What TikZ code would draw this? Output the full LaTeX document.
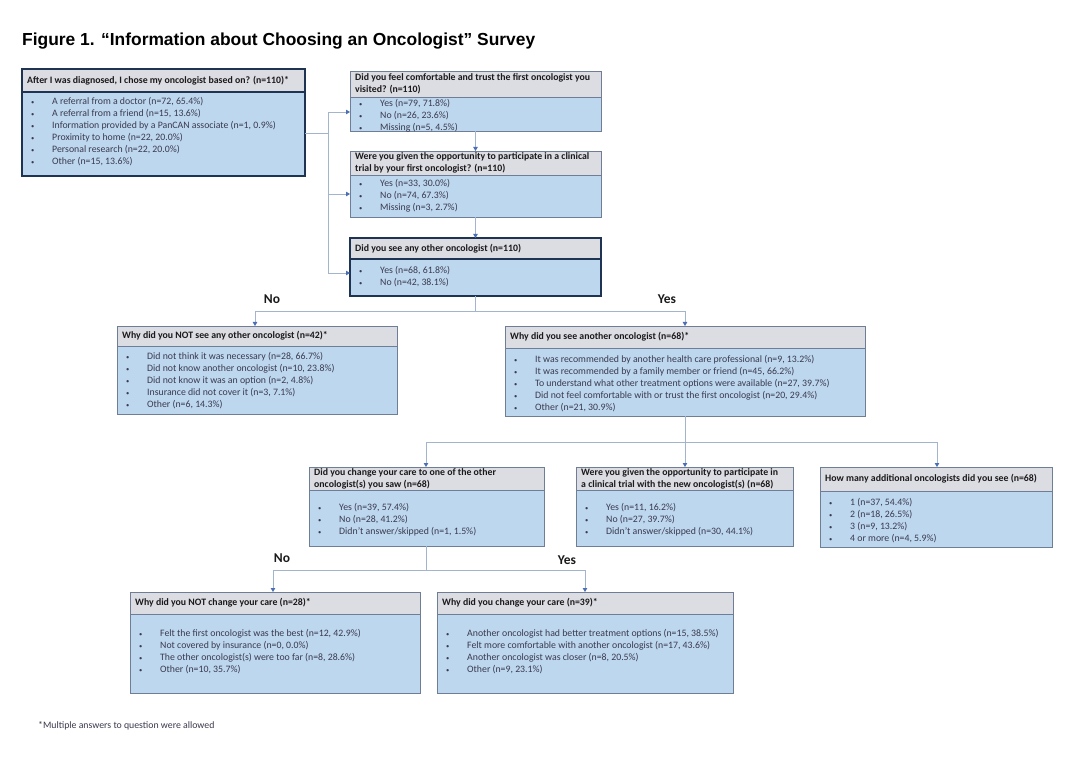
\documentclass[tikz,border=0pt]{standalone}
\usepackage{fontspec}
\setmainfont{Carlito}
\newfontfamily\titlefont{Liberation Sans}
\usetikzlibrary{arrows.meta,calc}
\definecolor{headfill}{HTML}{DCDCE3}
\definecolor{bodyfill}{HTML}{BDD7EE}
\definecolor{boxline}{HTML}{6F7E96}
\definecolor{navy}{HTML}{1F3352}
\definecolor{connline}{HTML}{A3B5CC}
\definecolor{arrowblue}{HTML}{4A6FB5}
\definecolor{bodytext}{HTML}{3A3A4E}
\definecolor{headtext}{HTML}{1A1A1A}

\tikzset{
  thinbox/.style={draw=boxline,line width=0.9pt},
  thickbox/.style={draw=navy,line width=1.8pt},
  headtxt/.style={font=\fontsize{9.8}{12}\selectfont\bfseries,text=headtext,align=left,inner sep=0pt},
  bodytxt/.style={font=\fontsize{9.8}{12}\selectfont,text=bodytext,align=left,inner sep=0pt},
  conn/.style={draw=connline,line width=0.9pt},
  arr/.style={conn,-{Triangle[width=4.5pt,length=4pt,color=arrowblue]}},
  lbl/.style={font=\fontsize{13.5}{15}\selectfont\bfseries,text=headtext,inner sep=0pt},
}

% name, border style, x, y, w, h, header height
\newcommand\qbox[7]{%
  \node[fill=bodyfill,inner sep=0pt,outer sep=0pt,minimum width=#5pt,minimum height=#6pt,anchor=north west] (#1) at (#3,#4) {};
  \fill[headfill] (#1.north west) rectangle ($(#1.north east)+(0,#7)$);
  \draw[#2] ($(#1.north west)+(0,#7)$) -- ($(#1.north east)+(0,#7)$);
  \draw[#2] (#1.north west) rectangle (#1.south east);
}
\newcommand\hdr[4][]{\node[headtxt,anchor=west,#1] (#2-h) at ($(#2.north west)+(5,#3)$) {#4};}
\newcommand\bdy[4][]{\node[bodytxt,anchor=north west,#1] (#2-b) at ($(#2.north west)+(9,#3)$) {#4};}
\newcommand\itm[1]{\makebox[21pt][l]{\fontsize{6.5}{6.5}\selectfont•}#1}

\begin{document}
\begin{tikzpicture}[x=1pt,y=-1pt]
\useasboundingbox[fill=white] (0,0) rectangle (1088,762);

\node[font=\titlefont\fontsize{17.4}{19}\selectfont\bfseries,anchor=base west,inner sep=0pt] (title) at (22,46) {Figure 1. “Information about Choosing an Oncologist” Survey};

% Boxes
\qbox{A}{thickbox}{22}{69}{283}{107}{23}
\hdr{A}{11.5}{After I was diagnosed, I chose my oncologist based on? (n=110)*}
\bdy{A}{28.5}{\itm{A referral from a doctor (n=72, 65.4\%)}\\\itm{A referral from a friend (n=15, 13.6\%)}\\\itm{Information provided by a PanCAN associate (n=1, 0.9\%)}\\\itm{Proximity to home (n=22, 20.0\%)}\\\itm{Personal research (n=22, 20.0\%)}\\\itm{Other (n=15, 13.6\%)}}

\qbox{B}{thinbox}{350}{71}{251}{60}{26}
\hdr{B}{13}{Did you feel comfortable and trust the first oncologist you\\visited? (n=110)}
\bdy{B}{28.5}{\itm{Yes (n=79, 71.8\%)}\\\itm{No (n=26, 23.6\%)}\\\itm{Missing (n=5, 4.5\%)}}

\qbox{C}{thinbox}{350}{151}{251}{66}{24}
\hdr{C}{12}{Were you given the opportunity to participate in a clinical\\trial by your first oncologist? (n=110)}
\bdy{C}{28.5}{\itm{Yes (n=33, 30.0\%)}\\\itm{No (n=74, 67.3\%)}\\\itm{Missing (n=3, 2.7\%)}}

\qbox{D}{thickbox}{350}{238}{251}{58}{21}
\hdr{D}{10.5}{Did you see any other oncologist (n=110)}
\bdy{D}{28.5}{\itm{Yes (n=68, 61.8\%)}\\\itm{No (n=42, 38.1\%)}}

\qbox{E}{thinbox}{117}{326}{280}{88}{20}
\hdr{E}{10}{Why did you NOT see any other oncologist (n=42)*}
\bdy{E}{26.5}{\itm{Did not think it was necessary (n=28, 66.7\%)}\\\itm{Did not know another oncologist (n=10, 23.8\%)}\\\itm{Did not know it was an option (n=2, 4.8\%)}\\\itm{Insurance did not cover it (n=3, 7.1\%)}\\\itm{Other (n=6, 14.3\%)}}

\qbox{F}{thinbox}{505}{326}{360}{90}{22}
\hdr{F}{11}{Why did you see another oncologist (n=68)*}
\bdy{F}{29.5}{\itm{It was recommended by another health care professional (n=9, 13.2\%)}\\\itm{It was recommended by a family member or friend (n=45, 66.2\%)}\\\itm{To understand what other treatment options were available (n=27, 39.7\%)}\\\itm{Did not feel comfortable with or trust the first oncologist (n=20, 29.4\%)}\\\itm{Other (n=21, 30.9\%)}}

\qbox{G}{thinbox}{309}{467}{235}{79}{23}
\hdr{G}{11.5}{Did you change your care to one of the other\\oncologist(s) you saw (n=68)}
\bdy{G}{36.5}{\itm{Yes (n=39, 57.4\%)}\\\itm{No (n=28, 41.2\%)}\\\itm{Didn’t answer/skipped (n=1, 1.5\%)}}

\qbox{H}{thinbox}{576}{467}{217}{79}{23}
\hdr{H}{11.5}{Were you given the opportunity to participate in\\a clinical trial with the new oncologist(s) (n=68)}
\bdy{H}{36.5}{\itm{Yes (n=11, 16.2\%)}\\\itm{No (n=27, 39.7\%)}\\\itm{Didn’t answer/skipped (n=30, 44.1\%)}}

\qbox{I}{thinbox}{820}{467}{232}{80}{24}
\hdr{I}{12}{How many additional oncologists did you see (n=68)}
\bdy{I}{31.5}{\itm{1 (n=37, 54.4\%)}\\\itm{2 (n=18, 26.5\%)}\\\itm{3 (n=9, 13.2\%)}\\\itm{4 or more (n=4, 5.9\%)}}

\qbox{J}{thinbox}{130}{592}{290}{101}{22}
\hdr{J}{11}{Why did you NOT change your care (n=28)*}
\bdy{J}{37.5}{\itm{Felt the first oncologist was the best (n=12, 42.9\%)}\\\itm{Not covered by insurance (n=0, 0.0\%)}\\\itm{The other oncologist(s) were too far (n=8, 28.6\%)}\\\itm{Other (n=10, 35.7\%)}}

\qbox{K}{thinbox}{437}{592}{296}{101}{22}
\hdr{K}{11}{Why did you change your care (n=39)*}
\bdy{K}{37.5}{\itm{Another oncologist had better treatment options (n=15, 38.5\%)}\\\itm{Felt more comfortable with another oncologist (n=17, 43.6\%)}\\\itm{Another oncologist was closer (n=8, 20.5\%)}\\\itm{Other (n=9, 23.1\%)}}

% Connectors: A -> B, C, D
\coordinate (a1) at (328,133);
\coordinate (b1) at (328,112);
\coordinate (b2) at (328,194);
\coordinate (b3) at (328,273);
\draw[conn] (A.east |- a1) -- (a1);
\draw[conn] (b1) -- (b3);
\draw[arr] (b1) -- (b1 -| B.west);
\draw[arr] (b2) -- (b2 -| C.west);
\draw[arr] (b3) -- (b3 -| D.west);
\draw[arr] (B.south) -- (C.north);
\draw[arr] (C.south) -- (D.north);

% D -> E, F
\coordinate (dE) at (255,311);
\coordinate (dF) at (685,311);
\draw[conn] (D.south) -- (D.south |- dE);
\draw[conn] (dE) -- (dF);
\draw[arr] (dE) -- (dE |- E.north);
\draw[arr] (dF) -- (dF |- F.north);
\node[lbl] (no1) at (272,299) {No};
\node[lbl] (yes1) at (667,299) {Yes};

% F -> G, H, I
\coordinate (fG) at (426,442);
\coordinate (fH) at (685,442);
\coordinate (fI) at (937,442);
\draw[conn] (F.south) -- (fH);
\draw[conn] (fG) -- (fI);
\draw[arr] (fG) -- (fG |- G.north);
\draw[arr] (fH) -- (fH |- H.north);
\draw[arr] (fI) -- (fI |- I.north);

% G -> J, K
\coordinate (gJ) at (273,570);
\coordinate (gK) at (585,570);
\draw[conn] (G.south) -- (G.south |- gJ);
\draw[conn] (gJ) -- (gK);
\draw[arr] (gJ) -- (gJ |- J.north);
\draw[arr] (gK) -- (gK |- K.north);
\node[lbl] (no2) at (282,558) {No};
\node[lbl] (yes2) at (567,560) {Yes};

\node[font=\fontsize{9.8}{11}\selectfont,text=bodytext,anchor=west,inner sep=0pt] (note) at (38,726) {*Multiple answers to question were allowed};
\end{tikzpicture}
\end{document}
